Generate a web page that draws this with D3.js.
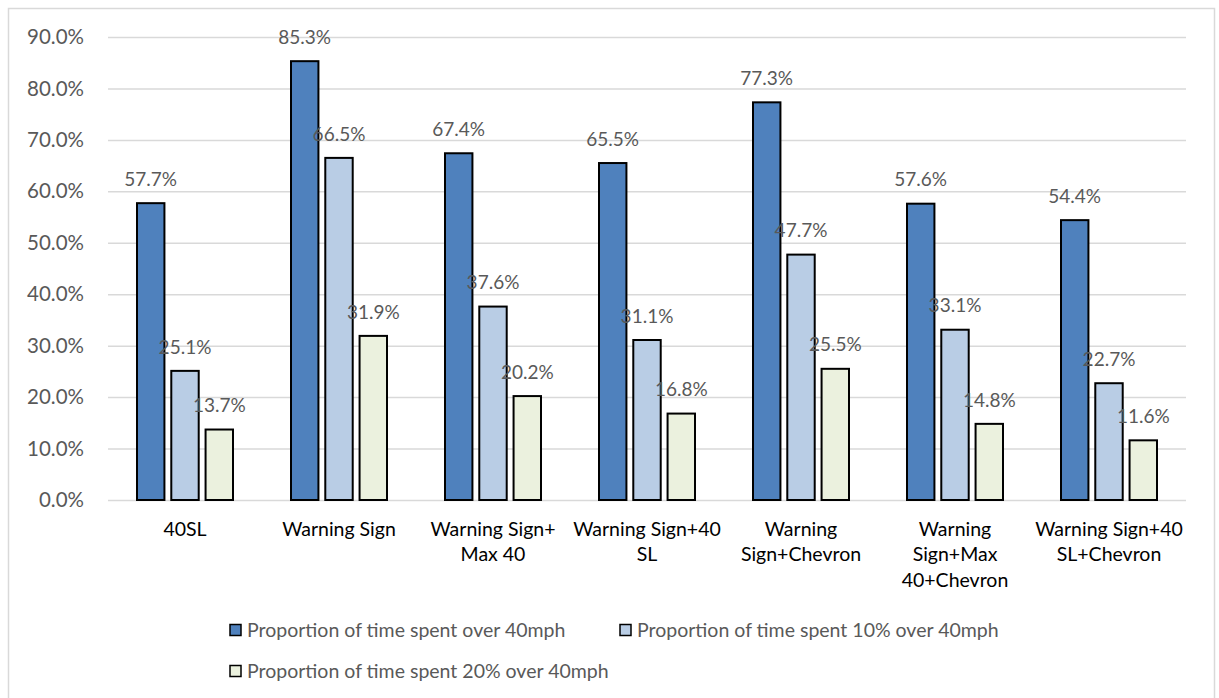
<!DOCTYPE html>
<html>
<head>
<meta charset="utf-8">
<script src="https://cdn.jsdelivr.net/npm/d3@7"></script>
<style>
  body { margin: 0; background: #fff; }
  text { font-family: Lato, "Open Sans", sans-serif; }
</style>
</head>
<body>
<div id="wrapper"></div>
<script>
// data
const categories = ["40SL", "Warning Sign", "Warning Sign+Max 40", "Warning Sign+40 SL",
  "Warning Sign+Chevron", "Warning Sign+Max 40+Chevron", "Warning Sign+40 SL+Chevron"]
const categoryLines = [
  ["40SL"],
  ["Warning Sign"],
  ["Warning Sign+", "Max 40"],
  ["Warning Sign+40", "SL"],
  ["Warning", "Sign+Chevron"],
  ["Warning", "Sign+Max", "40+Chevron"],
  ["Warning Sign+40", "SL+Chevron"]
]
const seriesNames = [
  "Proportion of time spent over 40mph",
  "Proportion of time spent 10% over 40mph",
  "Proportion of time spent 20% over 40mph"
]
const over40 = [57.7, 85.3, 67.4, 65.5, 77.3, 57.6, 54.4]
const over10pct = [25.1, 66.5, 37.6, 31.1, 47.7, 33.1, 22.7]
const over20pct = [13.7, 31.9, 20.2, 16.8, 25.5, 14.8, 11.6]
const yTicks = [0, 10, 20, 30, 40, 50, 60, 70, 80, 90]
const colors = ["#4f81bd", "#b9cde5", "#ebf1de"]

const seriesValues = [over40, over10pct, over20pct]

// dimensions
const dimensions = {
  width: 1219,
  height: 698,
  plot: { left: 108, right: 1186, top: 37, bottom: 500 }
}

const svg = d3.select("#wrapper")
  .append("svg")
  .attr("width", dimensions.width)
  .attr("height", dimensions.height)

// chart border
svg.append("rect")
  .attr("x", 8.5).attr("y", 8.5)
  .attr("width", 1206).attr("height", 700)
  .attr("fill", "#fff")
  .attr("stroke", "#d9d9d9")
  .attr("stroke-width", 1.5)

// scales
const x0 = d3.scaleBand()
  .domain(categories)
  .range([dimensions.plot.left, dimensions.plot.right])

const groupWidth = 96
const x1 = d3.scaleBand()
  .domain(seriesNames)
  .range([(x0.bandwidth() - groupWidth) / 2, (x0.bandwidth() + groupWidth) / 2])
  .paddingInner(0.2)

const y = d3.scaleLinear()
  .domain([0, 90])
  .range([dimensions.plot.bottom, dimensions.plot.top])

// gridlines + y labels
const yAxis = d3.axisLeft(y)
  .tickValues(yTicks)
  .tickSize(-(dimensions.plot.right - dimensions.plot.left))
  .tickPadding(24)
  .tickFormat(d => d.toFixed(1) + "%")

svg.append("g")
  .attr("transform", `translate(${dimensions.plot.left},0)`)
  .call(yAxis)
  .call(g => g.select(".domain").remove())
  .call(g => g.selectAll("line").attr("stroke", "#d9d9d9").attr("stroke-width", 1.5))
  .call(g => g.selectAll("text")
    .attr("fill", "#595959")
    .style("font-size", "20.5px"))

// bars
const groups = svg.append("g")
  .selectAll("g")
  .data(categories)
  .join("g")
  .attr("transform", d => `translate(${x0(d)},0)`)

const barData = (c, i) => seriesNames.map((s, j) => ({ series: s, j, value: seriesValues[j][i] }))

groups.selectAll("rect")
  .data(barData)
  .join("rect")
  .attr("x", d => x1(d.series))
  .attr("y", d => y(d.value))
  .attr("width", x1.bandwidth())
  .attr("height", d => y(0) - y(d.value))
  .attr("fill", d => colors[d.j])
  .attr("stroke", "#000")
  .attr("stroke-width", 2)

// data labels
groups.selectAll("text.value")
  .data(barData)
  .join("text")
  .attr("class", "value")
  .attr("x", d => x1(d.series) + x1.bandwidth() / 2)
  .attr("y", d => y(d.value) - 24)
  .attr("dy", "0.35em")
  .attr("text-anchor", "middle")
  .attr("fill", "#595959")
  .style("font-size", "19px")
  .text(d => d.value.toFixed(1) + "%")

// category labels
const catLabels = svg.append("g")
  .selectAll("text")
  .data(categories)
  .join("text")
  .attr("x", d => x0(d) + x0.bandwidth() / 2)
  .attr("y", 529)
  .attr("text-anchor", "middle")
  .attr("fill", "#000")
  .style("font-size", "19.5px")

catLabels.selectAll("tspan")
  .data((d, i) => categoryLines[i])
  .join("tspan")
  .attr("x", function () { return d3.select(this.parentNode).attr("x") })
  .attr("dy", (d, i) => i === 0 ? "0.35em" : "25.5px")
  .text(d => d)

// legend
const legendPos = [[230, 630], [620, 630], [230, 671]]
const legend = svg.append("g")
  .selectAll("g")
  .data(seriesNames)
  .join("g")
  .attr("transform", (d, i) => `translate(${legendPos[i][0]},${legendPos[i][1]})`)

legend.append("rect")
  .attr("x", 0).attr("y", -5.5)
  .attr("width", 11).attr("height", 11)
  .attr("fill", (d, i) => colors[i])
  .attr("stroke", "#000")
  .attr("stroke-width", 1.5)

legend.append("text")
  .attr("x", 17)
  .attr("dy", "0.35em")
  .attr("fill", "#595959")
  .style("font-size", "19.5px")
  .text(d => d)
</script>
</body>
</html>
